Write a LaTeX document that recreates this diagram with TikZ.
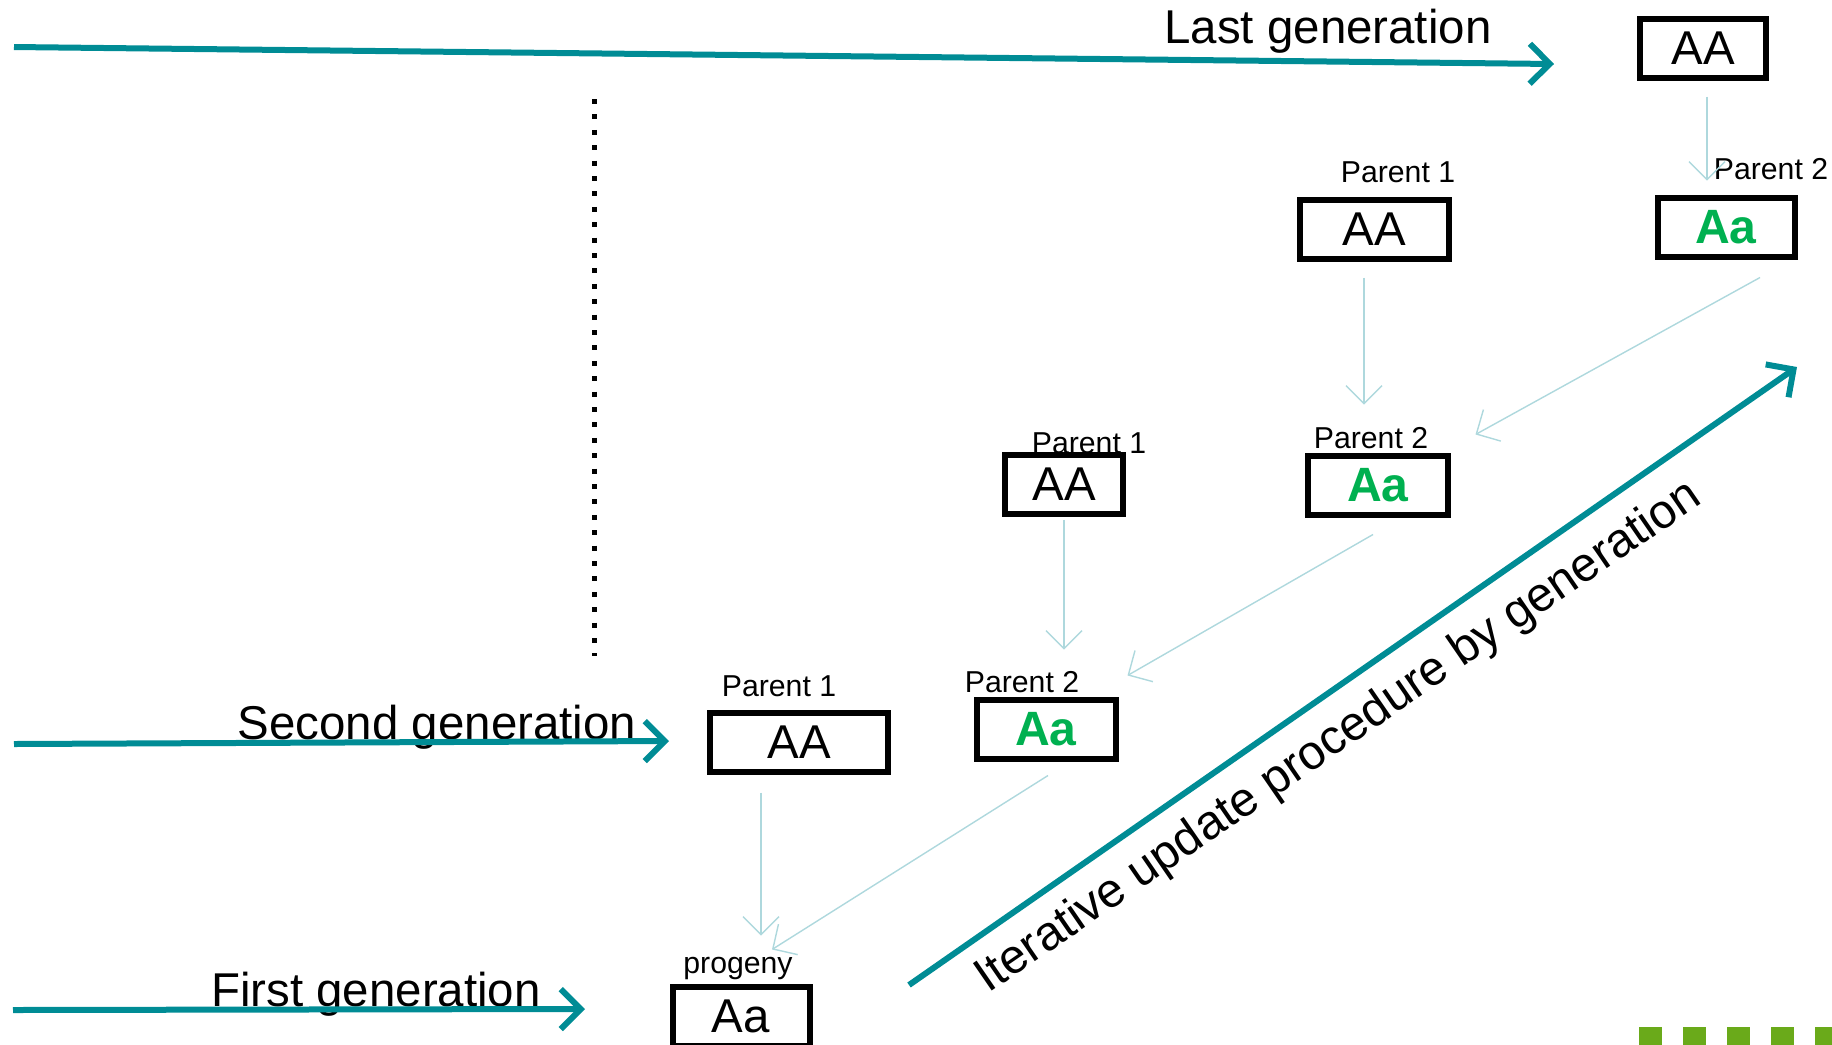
\documentclass[tikz,border=0pt]{standalone}
\usepackage{fontspec}
\setmainfont{Liberation Sans}
\usetikzlibrary{arrows.meta}

\definecolor{genteal}{RGB}{0,140,149}
\definecolor{linkblue}{RGB}{174,216,221}
\definecolor{hetgreen}{RGB}{0,176,80}
\definecolor{barkgreen}{RGB}{106,170,26}

\begin{document}
\begin{tikzpicture}[
    every node/.style={font=\fontsize{13.5}{16}\selectfont},
    tag/.style={font=\fontsize{8.6}{10}\selectfont, anchor=base, inner sep=0pt},
    homo/.style={draw, line width=0.06cm, minimum height=0.59cm, inner sep=0pt},
    hetero/.style={homo, text=hetgreen, font=\fontsize{13.7}{16}\selectfont\bfseries},
    genarrow/.style={-{Straight Barb[length=0.2cm, width=0.4cm]}, line width=0.06cm, genteal},
    link/.style={-{Straight Barb[length=0.18cm, width=0.36cm]}, line width=0.4pt, linkblue},
    dotline/.style={line width=0.05cm, dash pattern=on 0.05cm off 0.104cm}
]

\useasboundingbox (0,0) rectangle (18.32,-10.44);

\coordinate (last0) at (0.14,-0.47);
\coordinate (last1) at (15.54,-0.64);
\coordinate (second0) at (0.14,-7.44);
\coordinate (second1) at (6.69,-7.41);
\coordinate (first0) at (0.13,-10.10);
\coordinate (first1) at (5.85,-10.09);
\coordinate (iter0) at (9.09,-9.85);
\coordinate (iter1) at (17.97,-3.67);
\coordinate (sepTop) at (5.94,-0.99);
\coordinate (sepBot) at (5.94,-6.56);

\draw[dotline] (sepTop) -- (sepBot);

\node[homo, minimum width=1.26cm]   (aaLast) at (17.03,-0.48) {AA};
\node[homo, minimum width=1.49cm]   (aaP1c)  at (13.74,-2.29) {AA};
\node[hetero, minimum width=1.37cm] (aaP2c)  at (17.26,-2.27) {Aa};
\node[homo, minimum width=1.18cm]   (aaP1b)  at (10.64,-4.84) {AA};
\node[hetero, minimum width=1.40cm] (aaP2b)  at (13.78,-4.85) {Aa};
\node[hetero, minimum width=1.39cm] (aaP2a)  at (10.46,-7.29) {Aa};
\node[homo, minimum width=1.78cm]   (aaP1a)  at (7.99,-7.42)  {AA};
\node[homo, minimum width=1.37cm]   (kid)    at (7.41,-10.16) {Aa};

\node[tag] (t1c)  at (13.98,-1.82) {Parent 1};
\node[tag] (t2c)  at (17.71,-1.79) {Parent 2};
\node[tag] (t1b)  at (10.89,-4.53) {Parent 1};
\node[tag] (t2b)  at (13.71,-4.48) {Parent 2};
\node[tag] (t2a)  at (10.22,-6.92) {Parent 2};
\node[tag] (t1a)  at (7.79,-6.96)  {Parent 1};
\node[tag] (tkid) at (7.38,-9.73)  {progeny};

\node[anchor=base] (lastTxt)   at (13.28,-0.43) {Last generation};
\node[anchor=base] (secondTxt) at (4.37,-7.39)  {Second generation};
\node[anchor=base] (firstTxt)  at (3.76,-10.06) {First generation};
\node[rotate=34.5, font=\fontsize{13.7}{16}\selectfont] (iterTxt) at (13.39,-7.38) {Iterative update procedure by generation};

\draw[genarrow] (last0) -- (last1);
\draw[genarrow] (second0) -- (second1);
\draw[genarrow] (first0) -- (first1);
\draw[genarrow] (iter0) -- (iter1);

\draw[link] ([xshift=0.04cm,yshift=-0.16cm]aaLast.south) -- ([xshift=0.04cm,yshift=0.14cm]aaLast.south |- aaP2c.north);
\draw[link] ([xshift=-0.10cm,yshift=-0.16cm]aaP1c.south) -- ([xshift=-0.10cm,yshift=0.48cm]aaP1c.south |- aaP2b.north);
\draw[link] ([xshift=0.34cm,yshift=-0.18cm]aaP2c.south) -- ([xshift=0.245cm,yshift=0.18cm]aaP2b.north east);
\draw[link] ([yshift=-0.03cm]aaP1b.south) -- ([yshift=0.47cm]aaP1b.south |- aaP2a.north);
\draw[link] ([xshift=-0.05cm,yshift=-0.17cm]aaP2b.south) -- ([xshift=0.09cm,yshift=0.21cm]aaP2a.north east);
\draw[link] ([xshift=-0.38cm,yshift=-0.18cm]aaP1a.south) -- ([xshift=0.20cm,yshift=0.48cm]kid.north);
\draw[link] ([xshift=0.02cm,yshift=-0.14cm]aaP2a.south) -- ([xshift=0.31cm,yshift=0.34cm]kid.north);

\foreach \i in {0,...,4}
  \fill[barkgreen] (16.39+0.44*\i,-10.27) rectangle ++(0.23,-0.23);

\end{tikzpicture}
\end{document}
